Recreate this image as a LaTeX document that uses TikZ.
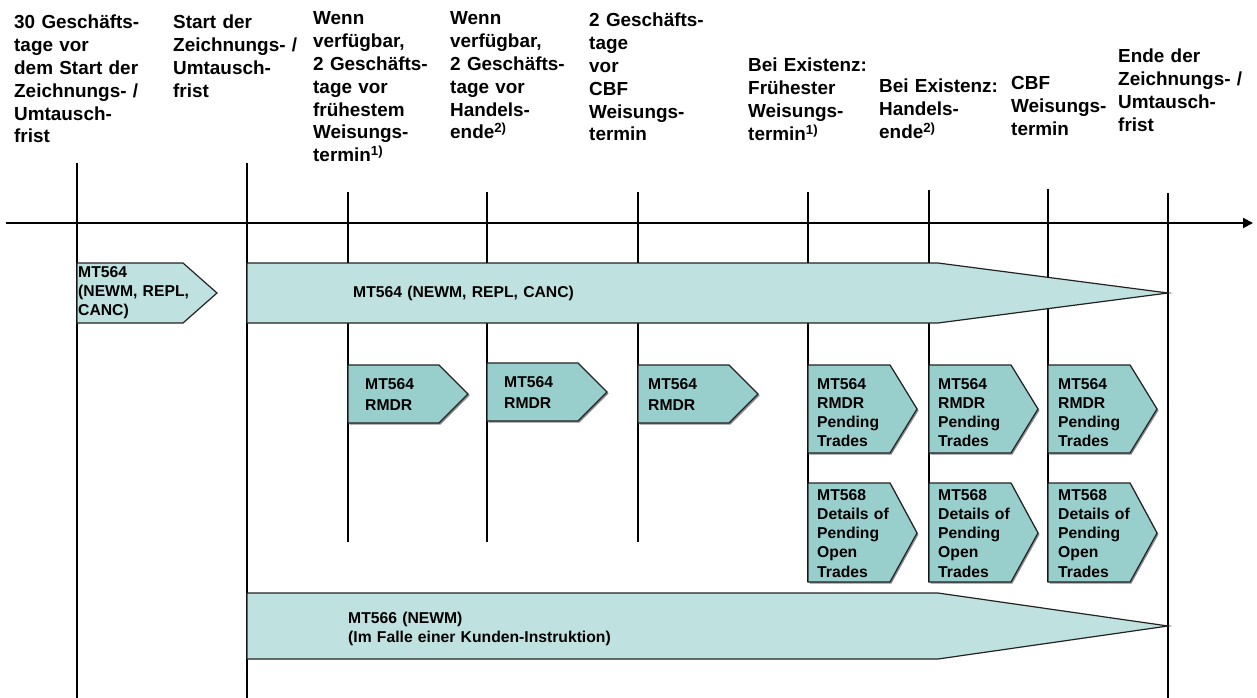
\documentclass[tikz,border=0pt]{standalone}
\usepackage{fontspec}
\setmainfont{Liberation Sans}
\usetikzlibrary{arrows.meta}
\definecolor{lightteal}{RGB}{191,225,223}
\definecolor{midteal}{RGB}{152,206,204}
\definecolor{edgecol}{RGB}{35,35,35}
\tikzset{
 vline/.style={line width=1.6pt, draw=black},
 axisline/.style={line width=1.9pt, draw=black, -{Triangle[length=10pt,width=10pt]}},
 bigarrow/.style={fill=lightteal, draw=edgecol, line width=1.2pt},
 smallbox/.style={fill=midteal, draw=edgecol, line width=1.2pt},
 boxshadow/.style={fill=black!45, draw=none},
 hdr/.style={anchor=base west, inner sep=0pt, text width=220pt, align=left, font=\fontsize{18.9}{22.8}\selectfont\bfseries},
 lbl/.style={anchor=base west, inner sep=0pt, text width=300pt, align=left, font=\fontsize{15.7}{19.3}\selectfont\bfseries},
 lblwide/.style={lbl, font=\fontsize{15.7}{21.8}\selectfont\bfseries},
}
\begin{document}
\begin{tikzpicture}[x=1pt,y=-1pt]
\useasboundingbox (0,0) rectangle (1257,698);
% vertical time lines
\foreach \n/\x/\ya/\yb in {1/77/163/698, 2/247/163/698, 3/348/192/542, 4/487/192/542, 5/638/192/542, 6/808/192/582, 7/929/190/582, 8/1048/189/582, 9/1168/193/698}{
  \coordinate (vt\n) at (\x,\ya);
  \coordinate (vb\n) at (\x,\yb);
  \draw[vline] (vt\n) -- (vb\n);
}
% time axis
\coordinate (axL) at (6,223);
\coordinate (axR) at (1253,223);
\draw[axisline] (axL) -- (axR);
% big arrows
\draw[bigarrow] (77,263) -- (183,263) -- (217,293) -- (183,323) -- (77,323) -- cycle;
\draw[bigarrow] (247,263) -- (938,263) -- (1168,293) -- (938,323) -- (247,323) -- cycle;
\draw[bigarrow] (247,593) -- (938,593) -- (1168,626) -- (938,659) -- (247,659) -- cycle;
% small RMDR boxes
\foreach \x/\y in {348/365, 487/363, 638/365}{
  \fill[boxshadow] (\x+1.5,\y+1.5) -- (\x+92.5,\y+1.5) -- (\x+121.5,\y+30.5) -- (\x+92.5,\y+59.5) -- (\x+1.5,\y+59.5) -- cycle;
  \draw[smallbox] (\x,\y) -- (\x+91,\y) -- (\x+120,\y+29) -- (\x+91,\y+58) -- (\x,\y+58) -- cycle;
}
% pending trades boxes
\foreach \x in {808, 929, 1048}{
  \fill[boxshadow] (\x+1.5,366.5) -- (\x+83.5,366.5) -- (\x+110.5,410.5) -- (\x+83.5,454.5) -- (\x+1.5,454.5) -- cycle;
  \draw[smallbox] (\x,365) -- (\x+82,365) -- (\x+109,409) -- (\x+82,453) -- (\x,453) -- cycle;
  \fill[boxshadow] (\x+1.5,484.5) -- (\x+83.5,484.5) -- (\x+110.5,534.5) -- (\x+83.5,583.5) -- (\x+1.5,583.5) -- cycle;
  \draw[smallbox] (\x,483) -- (\x+82,483) -- (\x+109,533) -- (\x+82,582) -- (\x,582) -- cycle;
}
% header texts
\node[hdr] (h1) at (14,29) {30 Geschäfts-\\tage vor\\dem Start der\\Zeichnungs- /\\Umtausch-\\frist};
\node[hdr] (h2) at (173,29) {Start der\\Zeichnungs- /\\Umtausch-\\frist};
\node[hdr] (h3) at (313,25) {Wenn\\verfügbar,\\2 Geschäfts-\\tage vor\\frühestem\\Weisungs-\\termin\textsuperscript{1)}};
\node[hdr] (h4) at (450,25) {Wenn\\verfügbar,\\2 Geschäfts-\\tage vor\\Handels-\\ende\textsuperscript{2)}};
\node[hdr] (h5) at (589,27) {2 Geschäfts-\\tage\\vor\\CBF\\Weisungs-\\termin};
\node[hdr] (h6) at (748,72) {Bei Existenz:\\Frühester\\Weisungs-\\termin\textsuperscript{1)}};
\node[hdr] (h7) at (879,93) {Bei Existenz:\\Handels-\\ende\textsuperscript{2)}};
\node[hdr] (h8) at (1011,90) {CBF\\Weisungs-\\termin};
\node[hdr] (h9) at (1118,63) {Ende der\\Zeichnungs- /\\Umtausch-\\frist};
% arrow labels
\node[lbl] (a1) at (78,277) {MT564\\(NEWM, REPL,\\CANC)};
\node[lbl] (a2) at (353,297) {MT564 (NEWM, REPL, CANC)};
\node[lbl] (a3) at (348,623) {MT566 (NEWM)\\(Im Falle einer Kunden-Instruktion)};
\node[lblwide] (r1) at (365,389) {MT564\\RMDR};
\node[lblwide] (r2) at (504,387) {MT564\\RMDR};
\node[lblwide] (r3) at (648,389) {MT564\\RMDR};
\node[lbl] (p1) at (817,389) {MT564\\RMDR\\Pending\\Trades};
\node[lbl] (p2) at (938,389) {MT564\\RMDR\\Pending\\Trades};
\node[lbl] (p3) at (1058,389) {MT564\\RMDR\\Pending\\Trades};
\node[lbl] (d1) at (817,500) {MT568\\Details of\\Pending\\Open\\Trades};
\node[lbl] (d2) at (938,500) {MT568\\Details of\\Pending\\Open\\Trades};
\node[lbl] (d3) at (1058,500) {MT568\\Details of\\Pending\\Open\\Trades};
\end{tikzpicture}
\end{document}
